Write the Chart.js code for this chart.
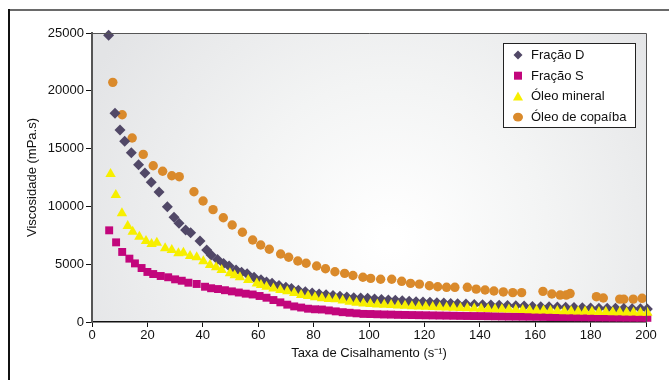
<!DOCTYPE html>
<html>
<head>
<meta charset="utf-8">
<script src="https://cdn.jsdelivr.net/npm/chart.js"></script>
<style>
  body { margin: 0; background: #fff; }
  #wrap { width: 669px; height: 380px; }
</style>
</head>
<body>
<div id="wrap"><canvas id="chart" width="669" height="380"></canvas></div>
<script>
// series names
var seriesNames = ['Fração D', 'Fração S', 'Óleo mineral', 'Óleo de copaíba'];

// Fração D
var fracDX = [6, 8.3, 10.1, 11.8, 14.2, 16.8, 19.1, 21.4, 24.2, 27.2, 29.6, 31.4, 33.8, 35.6, 39, 41.4, 43, 45.3, 47.5, 49.5,
    52, 54, 56, 58.5, 61, 63, 65, 67.5, 70, 72, 74.5, 77, 79.5, 82, 84.5, 87, 89.5, 92, 94.5, 97,
    99.5, 102, 104.5, 107, 109.5, 112, 114.5, 117, 119.5, 122, 124.5, 127, 129.5, 132, 135, 138, 141, 144, 147, 150,
    153, 156, 159, 162, 165, 168, 171, 174, 177, 180, 183, 186, 189, 192, 195, 198, 200.5];
var fracDY = [24800, 18050, 16600, 15630, 14650, 13600, 12900, 12080, 11250, 9970, 9060, 8540, 7960, 7720, 7000, 6230, 5800, 5400, 5050, 4850,
    4500, 4300, 4180, 3870, 3650, 3450, 3350, 3150, 3000, 2900, 2750, 2620, 2500, 2420, 2350, 2300, 2220, 2160, 2100, 2070,
    2060, 2000, 1950, 1910, 1880, 1830, 1800, 1760, 1730, 1700, 1660, 1640, 1600, 1580, 1550, 1520, 1490, 1470, 1450, 1430,
    1400, 1380, 1350, 1330, 1310, 1290, 1270, 1260, 1240, 1220, 1200, 1190, 1180, 1160, 1150, 1140, 1120];

// Fração S
var fracSX = [6.2, 8.7, 10.9, 13.5, 15.5, 17.9, 20, 22.1, 24.8, 27.5, 30, 32.4, 34.8, 37.8, 40.8, 43, 45.5, 48, 50.5, 53,
    55.5, 58, 60.5, 63, 65.5, 68, 70.5, 73, 75.5, 78, 80.5, 83, 85.5, 88, 90.5, 93, 95.5, 98, 100.5, 103,
    105.5, 108, 110.5, 113, 115.5, 118, 120.5, 123, 125.5, 128, 130.5, 133, 135.5, 138, 140.5, 143, 145.5, 148, 150.5, 153,
    155.5, 158, 160.5, 163, 165.5, 168, 170.5, 173, 175.5, 178, 180.5, 183, 185.5, 188, 190.5, 193, 195.5, 198, 200.5];
var fracSY = [7930, 6890, 6060, 5480, 5070, 4670, 4330, 4150, 3980, 3870, 3690, 3570, 3400, 3290, 3050, 2920, 2850, 2750, 2650, 2550,
    2450, 2380, 2250, 2100, 1900, 1700, 1500, 1350, 1250, 1150, 1100, 1080, 1000, 920, 850, 800, 750, 700, 690, 670,
    650, 640, 620, 610, 600, 590, 580, 570, 560, 550, 540, 530, 520, 515, 510, 500, 490, 480, 470, 465,
    460, 455, 450, 440, 430, 425, 420, 415, 410, 405, 400, 395, 390, 385, 380, 375, 370, 365, 360];

// Óleo mineral
var mineralX = [6.7, 8.6, 10.8, 12.9, 14.7, 17.1, 19.5, 21.5, 23.4, 26.4, 28.8, 31.2, 33, 35.4, 37.8, 40.2, 42.6, 44.8, 46.8, 49.8,
    51.5, 53.4, 56.4, 59.5, 61, 63, 65.5, 68, 70.5, 73, 75.5, 78, 80.5, 83, 85.5, 88, 90.5, 93, 95.5, 98,
    100.5, 103, 105.5, 108, 110.5, 113, 115.5, 118, 120.5, 123, 125.5, 128, 130.5, 133, 135.5, 138, 140.5, 143, 145.5, 148,
    150.5, 153, 155.5, 158, 160.5, 163, 165.5, 168, 170.5, 173, 175.5, 178, 180.5, 183, 185.5, 188, 190.5, 193, 195.5, 198,
    200.5];
var mineralY = [12800, 10990, 9400, 8300, 7810, 7380, 7000, 6750, 6860, 6370, 6230, 5940, 6000, 5710, 5600, 5250, 4930, 4730, 4500, 4210,
    4050, 3870, 3630, 3340, 3200, 3050, 2900, 2770, 2650, 2500, 2330, 2250, 2140, 2050, 2000, 1960, 1850, 1750, 1660, 1600,
    1560, 1520, 1490, 1460, 1430, 1400, 1370, 1340, 1310, 1290, 1270, 1250, 1230, 1210, 1190, 1170, 1150, 1130, 1110, 1095,
    1080, 1060, 1040, 1020, 1000, 985, 970, 955, 940, 930, 915, 900, 885, 870, 860, 850, 840, 830, 820, 810,
    800];

// Óleo de copaíba
var copaibaX = [7.5, 10.9, 14.5, 18.5, 22.1, 25.5, 28.8, 31.5, 36.8, 40.1, 43.7, 47.4, 50.6, 54.3, 58, 60.9, 64, 68.1, 71, 74.3,
    77.3, 81.1, 84.3, 87.7, 91.2, 94.2, 97.8, 100.6, 104.2, 108.2, 111.8, 115, 118.2, 121.8, 124.8, 128, 131, 135.5, 138.7, 141.9,
    145.1, 148.5, 151.9, 155.1, 162.8, 166, 169, 171.2, 172.6, 182.1, 184.6, 190.5, 192, 195.4, 198.6];
var copaibaY = [20730, 17930, 15920, 14500, 13520, 13040, 12650, 12570, 11270, 10470, 9720, 9020, 8390, 7760, 7090, 6660, 6290, 5880, 5600, 5280,
    5080, 4840, 4610, 4350, 4210, 4020, 3870, 3770, 3700, 3700, 3520, 3340, 3280, 3140, 3050, 3000, 3000, 3000, 2840, 2770,
    2680, 2600, 2540, 2540, 2650, 2420, 2330, 2330, 2460, 2190, 2080, 1980, 1970, 1980, 2050];

var colors = {
    fracD: '#514867',
    fracS: '#c2067c',
    mineral: '#f7ef00',
    copaiba: '#da8a2b'
};

var FONT = '"Liberation Sans", Arial, sans-serif';

var toPoints = function (xs, ys) {
    var pts = [];
    for (var i = 0; i < xs.length; i++) {
        pts.push({ x: xs[i], y: ys[i] });
    }
    return pts;
};

// draws frame, plot background and the boxed legend
var decor = {
    id: 'decor',
    beforeDraw: function (chart) {
        var ctx = chart.ctx;
        var a = chart.chartArea;
        ctx.save();
        var g = ctx.createRadialGradient(390, 240, 10, 390, 240, 340);
        g.addColorStop(0, '#ffffff');
        g.addColorStop(0.45, '#f3f4f4');
        g.addColorStop(1, '#e3e4e6');
        ctx.fillStyle = g;
        ctx.fillRect(a.left, a.top, a.right - a.left, a.bottom - a.top);
        // outer frame
        ctx.fillStyle = '#6a6a6a';
        ctx.fillRect(8, 9, 661, 2);
        ctx.fillStyle = '#111';
        ctx.fillRect(8, 9, 2, 371);
        ctx.restore();
    },
    afterDraw: function (chart) {
        var ctx = chart.ctx;
        var a = chart.chartArea;
        ctx.save();
        ctx.strokeStyle = '#555';
        ctx.lineWidth = 1;
        ctx.beginPath();
        ctx.moveTo(a.left, a.top + 0.5);
        ctx.lineTo(a.right + 0.5, a.top + 0.5);
        ctx.lineTo(a.right + 0.5, a.bottom);
        ctx.stroke();

        // legend
        var bx = 503.5, by = 43.5, bw = 132, bh = 84;
        ctx.fillStyle = '#fff';
        ctx.fillRect(bx, by, bw, bh);
        ctx.strokeStyle = '#222';
        ctx.strokeRect(bx, by, bw, bh);
        ctx.font = '13px ' + FONT;
        ctx.textBaseline = 'middle';
        var ds = chart.data.datasets;
        for (var i = 0; i < ds.length; i++) {
            var cy = 55 + i * 20.7;
            var cx = 518;
            ctx.fillStyle = ds[i].backgroundColor;
            ctx.beginPath();
            if (ds[i].pointStyle === 'rectRot') {
                ctx.moveTo(cx, cy - 4.5); ctx.lineTo(cx + 4.5, cy); ctx.lineTo(cx, cy + 4.5); ctx.lineTo(cx - 4.5, cy);
            } else if (ds[i].pointStyle === 'rect') {
                ctx.rect(cx - 4, cy - 4, 8, 8);
            } else if (ds[i].pointStyle === 'triangle') {
                ctx.moveTo(cx, cy - 5); ctx.lineTo(cx + 5, cy + 4); ctx.lineTo(cx - 5, cy + 4);
            } else {
                ctx.ellipse(cx, cy, 5, 4.3, 0, 0, Math.PI * 2);
            }
            ctx.closePath();
            ctx.fill();
            ctx.fillStyle = '#111';
            ctx.fillText(ds[i].label, 531, cy + 0.5);
        }
        ctx.restore();
    }
};

var ds = function (label, xs, ys, color, style, radius, order) {
    return {
        label: label,
        data: toPoints(xs, ys),
        backgroundColor: color,
        borderColor: color,
        borderWidth: 0,
        pointStyle: style,
        pointRadius: radius,
        pointHoverRadius: radius,
        showLine: false,
        clip: false,
        order: order
    };
};

var plain = function (v) { return String(v); };

var config = {
    type: 'scatter',
    data: {
        datasets: [
            ds(seriesNames[0], fracDX, fracDY, colors.fracD, 'rectRot', 5.5, 2),
            ds(seriesNames[1], fracSX, fracSY, colors.fracS, 'rect', 5.6, 3),
            ds(seriesNames[2], mineralX, mineralY, colors.mineral, 'triangle', 6, 1),
            ds(seriesNames[3], copaibaX, copaibaY, colors.copaiba, 'circle', 4.7, 4)
        ]
    },
    options: {
        responsive: false,
        animation: false,
        layout: { padding: { left: 0, top: 33, right: 23, bottom: 0 } },
        plugins: {
            legend: { display: false },
            tooltip: { enabled: false }
        },
        scales: {
            x: {
                type: 'linear',
                min: 0,
                max: 200,
                ticks: { stepSize: 20, color: '#111', font: { family: FONT, size: 13 }, padding: 1, maxRotation: 0, callback: plain },
                grid: { drawOnChartArea: false, drawTicks: true, tickLength: 5, color: '#111' },
                border: { color: '#111', width: 1.5 },
                title: { display: true, text: 'Taxa de Cisalhamento (s⁻¹)', color: '#111', font: { family: FONT, size: 13 }, padding: { top: 3, bottom: 19 } },
                afterFit: function (s) { s.height = 58; }
            },
            y: {
                min: 0,
                max: 25000,
                ticks: { stepSize: 5000, color: '#111', font: { family: FONT, size: 13 }, padding: 2, callback: plain },
                grid: { drawOnChartArea: false, drawTicks: true, tickLength: 6, color: '#111' },
                border: { color: '#555', width: 2 },
                title: { display: true, text: 'Viscosidade (mPa.s)', color: '#111', font: { family: FONT, size: 13 }, padding: { top: 25, bottom: 0 } },
                afterFit: function (s) { s.width = 92; }
            }
        }
    },
    plugins: [decor]
};

new Chart(document.getElementById('chart'), config);
</script>
</body>
</html>
